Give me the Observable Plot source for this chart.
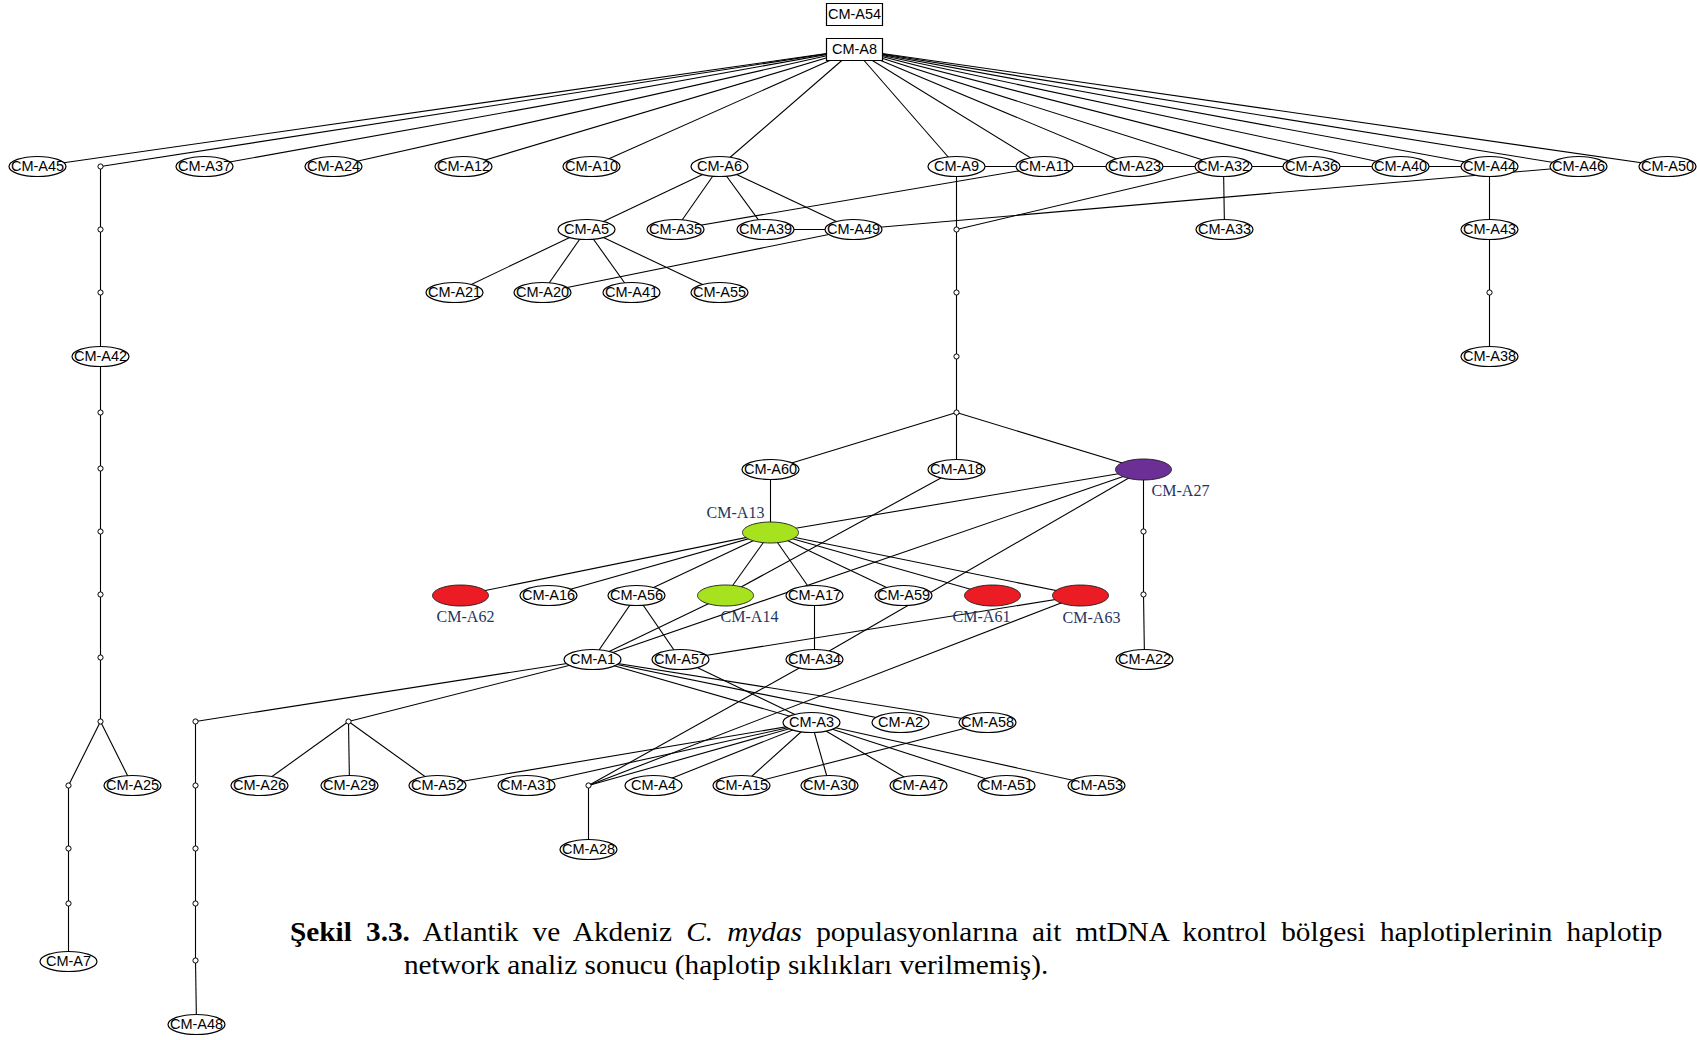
<!DOCTYPE html>
<html lang="tr">
<head>
<meta charset="utf-8">
<title>Haplotip network</title>
<script src="https://cdn.jsdelivr.net/npm/d3@7"></script>
<script src="https://cdn.jsdelivr.net/npm/@observablehq/plot@0.6"></script>
<style>
  html, body { margin: 0; padding: 0; background: #fff; }
  #wrap { position: relative; width: 1697px; height: 1040px; overflow: hidden; }
  #chart svg { position: absolute; left: 0; top: 0; }
  .caption {
    position: absolute; left: 290px; top: 916px;
    font-family: "Liberation Serif", "Times New Roman", serif;
    font-size: 27px; line-height: 33px; color: #000;
    transform-origin: 0 0; transform: scaleX(1.085);
  }
  .caption .l1 { width: 1265px; text-align: justify; text-align-last: justify; white-space: nowrap; }
  .caption .l2 { margin-left: 105px; white-space: nowrap; }
</style>
</head>
<body>
<div id="wrap">
  <div id="chart"></div>
  <div class="caption">
    <div class="l1"><b>Şekil 3.3.</b> Atlantik ve Akdeniz <i>C. mydas</i> populasyonlarına ait mtDNA kontrol bölgesi haplotiplerinin haplotip</div>
    <div class="l2">network analiz sonucu (haplotip sıklıkları verilmemiş).</div>
  </div>
</div>
<script>
// Network layout: [name, x, y] in layout pixels.
const boxes = [
  ["CM-A54", 854, 14],
  ["CM-A8", 854, 49]
];

const haplotypes = [
  ["CM-A45", 37, 166], ["CM-A37", 204, 166], ["CM-A24", 333, 166], ["CM-A12", 463, 166],
  ["CM-A10", 591, 166], ["CM-A6", 719, 166], ["CM-A9", 956, 166], ["CM-A11", 1044, 166],
  ["CM-A23", 1134, 166], ["CM-A32", 1223, 166], ["CM-A36", 1311, 166], ["CM-A40", 1400, 166],
  ["CM-A44", 1489, 166], ["CM-A46", 1578, 166], ["CM-A50", 1667, 166],
  ["CM-A5", 586, 229], ["CM-A35", 675, 229], ["CM-A39", 765, 229], ["CM-A49", 853, 229],
  ["CM-A33", 1224, 229], ["CM-A43", 1489, 229],
  ["CM-A21", 454, 292], ["CM-A20", 542, 292], ["CM-A41", 631, 292], ["CM-A55", 719, 292],
  ["CM-A42", 100, 356], ["CM-A38", 1489, 356],
  ["CM-A60", 770, 469], ["CM-A18", 956, 469],
  ["CM-A16", 548, 595], ["CM-A56", 636, 595], ["CM-A17", 814, 595], ["CM-A59", 903, 595],
  ["CM-A1", 592, 659], ["CM-A57", 680, 659], ["CM-A34", 814, 659], ["CM-A22", 1144, 659],
  ["CM-A3", 811, 722], ["CM-A2", 900, 722], ["CM-A58", 987, 722],
  ["CM-A25", 132, 785], ["CM-A26", 259, 785], ["CM-A29", 349, 785], ["CM-A52", 437, 785],
  ["CM-A31", 526, 785], ["CM-A4", 653, 785], ["CM-A15", 741, 785], ["CM-A30", 829, 785],
  ["CM-A47", 918, 785], ["CM-A51", 1006, 785], ["CM-A53", 1096, 785],
  ["CM-A28", 588, 849],
  ["CM-A7", 68, 961], ["CM-A48", 196, 1024]
];

// Haplotypes drawn filled, with their population group
const groupedHaplotypes = [
  ["CM-A27", 1143, 469, "mor"],
  ["CM-A13", 770, 532, "yeşil"],
  ["CM-A62", 460, 595, "kırmızı"],
  ["CM-A14", 725, 595, "yeşil"],
  ["CM-A61", 992, 595, "kırmızı"],
  ["CM-A63", 1080, 595, "kırmızı"]
];

// Median vectors (unsampled intermediate haplotypes)
const medianVectors = [
  ["m1", 100, 166], ["m2", 100, 229], ["m3", 100, 292], ["m4", 100, 412], ["m5", 100, 468],
  ["m6", 100, 531], ["m7", 100, 594], ["m8", 100, 657], ["m9", 100, 721],
  ["m10", 68, 785], ["m11", 68, 848], ["m12", 68, 903],
  ["m13", 195, 721], ["m14", 195, 785], ["m15", 195, 848], ["m16", 195, 903], ["m17", 195, 960],
  ["m18", 348, 721],
  ["m19", 956, 229], ["m20", 956, 292], ["m21", 956, 356], ["m22", 956, 412],
  ["m23", 1489, 292],
  ["m24", 1143, 531], ["m25", 1143, 594],
  ["m26", 588, 785]
];

const links = [
  ["CM-A8","CM-A45"],["CM-A8","m1"],["CM-A8","CM-A37"],["CM-A8","CM-A24"],["CM-A8","CM-A12"],
  ["CM-A8","CM-A10"],["CM-A8","CM-A6"],["CM-A8","CM-A9"],["CM-A8","CM-A11"],["CM-A8","CM-A23"],
  ["CM-A8","CM-A32"],["CM-A8","CM-A36"],["CM-A8","CM-A40"],["CM-A8","CM-A44"],["CM-A8","CM-A46"],
  ["CM-A8","CM-A50"],
  ["CM-A9","CM-A11"],["CM-A11","CM-A23"],["CM-A23","CM-A32"],["CM-A32","CM-A36"],
  ["CM-A36","CM-A40"],["CM-A40","CM-A44"],
  ["CM-A49","CM-A46"],["CM-A35","CM-A11"],["m19","CM-A32"],
  ["CM-A6","CM-A5"],["CM-A6","CM-A35"],["CM-A6","CM-A39"],["CM-A6","CM-A49"],["CM-A39","CM-A49"],
  ["CM-A5","CM-A21"],["CM-A5","CM-A20"],["CM-A5","CM-A41"],["CM-A5","CM-A55"],["CM-A20","CM-A49"],
  ["CM-A9","m19"],["m19","m20"],["m20","m21"],["m21","m22"],
  ["m22","CM-A60"],["m22","CM-A18"],["m22","CM-A27"],
  ["CM-A32","CM-A33"],["CM-A44","CM-A43"],["CM-A43","m23"],["m23","CM-A38"],
  ["m1","m2"],["m2","m3"],["m3","CM-A42"],["CM-A42","m4"],["m4","m5"],["m5","m6"],["m6","m7"],
  ["m7","m8"],["m8","m9"],["m9","m10"],["m9","CM-A25"],["m10","m11"],["m11","m12"],["m12","CM-A7"],
  ["CM-A60","CM-A13"],["CM-A27","m24"],["m24","m25"],["m25","CM-A22"],
  ["CM-A13","CM-A27"],["CM-A13","CM-A62"],["CM-A13","CM-A16"],["CM-A13","CM-A56"],
  ["CM-A13","CM-A14"],["CM-A13","CM-A17"],["CM-A13","CM-A59"],["CM-A13","CM-A61"],["CM-A13","CM-A63"],
  ["CM-A18","CM-A14"],["CM-A14","CM-A1"],["CM-A27","CM-A1"],["CM-A27","CM-A34"],
  ["CM-A56","CM-A1"],["CM-A56","CM-A57"],["CM-A17","CM-A34"],["CM-A57","CM-A63"],
  ["CM-A63","m26"],["CM-A34","m26"],
  ["CM-A1","m13"],["CM-A1","m18"],["CM-A1","CM-A3"],["CM-A1","CM-A2"],["CM-A1","CM-A58"],
  ["CM-A57","CM-A3"],
  ["m18","CM-A26"],["m18","CM-A29"],["m18","CM-A52"],
  ["m13","m14"],["m14","m15"],["m15","m16"],["m16","m17"],["m17","CM-A48"],
  ["CM-A3","CM-A52"],["CM-A3","CM-A31"],["CM-A3","m26"],["CM-A3","CM-A4"],["CM-A3","CM-A15"],
  ["CM-A3","CM-A30"],["CM-A3","CM-A47"],["CM-A3","CM-A51"],["CM-A3","CM-A53"],["CM-A58","CM-A15"],
  ["m26","CM-A28"]
];

// Label placement around the filled haplotypes (layout pixels)
const labelOffset = {
  "CM-A27": [37, 21], "CM-A13": [-35, -20], "CM-A62": [5, 21],
  "CM-A14": [24, 21], "CM-A61": [-11, 21], "CM-A63": [11, 22]
};

const nodeIndex = new Map(
  [...boxes, ...haplotypes, ...groupedHaplotypes, ...medianVectors].map(d => [d[0], d])
);
const edges = links.map(([a, b]) => {
  const s = nodeIndex.get(a), t = nodeIndex.get(b);
  return {x1: s[1], y1: s[2], x2: t[1], y2: t[2]};
});

// Custom Plot symbols: ellipse and rectangle of fixed size
function ellipseSymbol(rx, ry) {
  const k = 0.5523;
  return {
    draw(ctx) {
      ctx.moveTo(rx, 0);
      ctx.bezierCurveTo(rx, ry * k, rx * k, ry, 0, ry);
      ctx.bezierCurveTo(-rx * k, ry, -rx, ry * k, -rx, 0);
      ctx.bezierCurveTo(-rx, -ry * k, -rx * k, -ry, 0, -ry);
      ctx.bezierCurveTo(rx * k, -ry, rx, -ry * k, rx, 0);
      ctx.closePath();
    }
  };
}
function boxSymbol(hw, hh) {
  return {
    draw(ctx) {
      ctx.moveTo(-hw, -hh); ctx.lineTo(hw, -hh); ctx.lineTo(hw, hh); ctx.lineTo(-hw, hh); ctx.closePath();
    }
  };
}

const X = d => d[1], Y = d => d[2];
const sansFont = "'Liberation Sans', Arial, Helvetica, sans-serif";
const serifFont = "'Liberation Serif', 'Times New Roman', serif";

const chart = Plot.plot({
  width: 1697,
  height: 1040,
  margin: 0,
  style: {background: "white"},
  x: {domain: [0, 1697], range: [0, 1697], axis: null},
  y: {domain: [0, 1040], range: [0, 1040], axis: null},
  color: {domain: ["yeşil", "kırmızı", "mor"], range: ["#a6e21e", "#ec1c24", "#6c2f95"]},
  marks: [
    Plot.link(edges, {x1: "x1", y1: "y1", x2: "x2", y2: "y2", stroke: "#000", strokeWidth: 1.1}),
    Plot.dot(medianVectors, {x: X, y: Y, r: 2.6, fill: "white", stroke: "#000", strokeWidth: 1}),
    Plot.dot(haplotypes, {x: X, y: Y, symbol: ellipseSymbol(28.5, 10), fill: "white", stroke: "#000", strokeWidth: 1.2}),
    Plot.dot(groupedHaplotypes, {x: X, y: Y, symbol: ellipseSymbol(28, 10.5), fill: d => d[3], stroke: "#1a1a1a", strokeWidth: 0.9}),
    Plot.dot(boxes, {x: X, y: Y, symbol: boxSymbol(28, 11), fill: "white", stroke: "#000", strokeWidth: 1.2}),
    Plot.text([...haplotypes, ...boxes], {
      x: X, y: Y, text: d => d[0],
      fontFamily: sansFont, fontSize: 14.5, fill: "#000"
    }),
    Plot.text(groupedHaplotypes, {
      x: d => d[1] + labelOffset[d[0]][0],
      y: d => d[2] + labelOffset[d[0]][1],
      text: d => d[0],
      fontFamily: serifFont, fontSize: 16, fill: "#1f3560"
    })
  ]
});

document.getElementById("chart").append(chart);
</script>
</body>
</html>
